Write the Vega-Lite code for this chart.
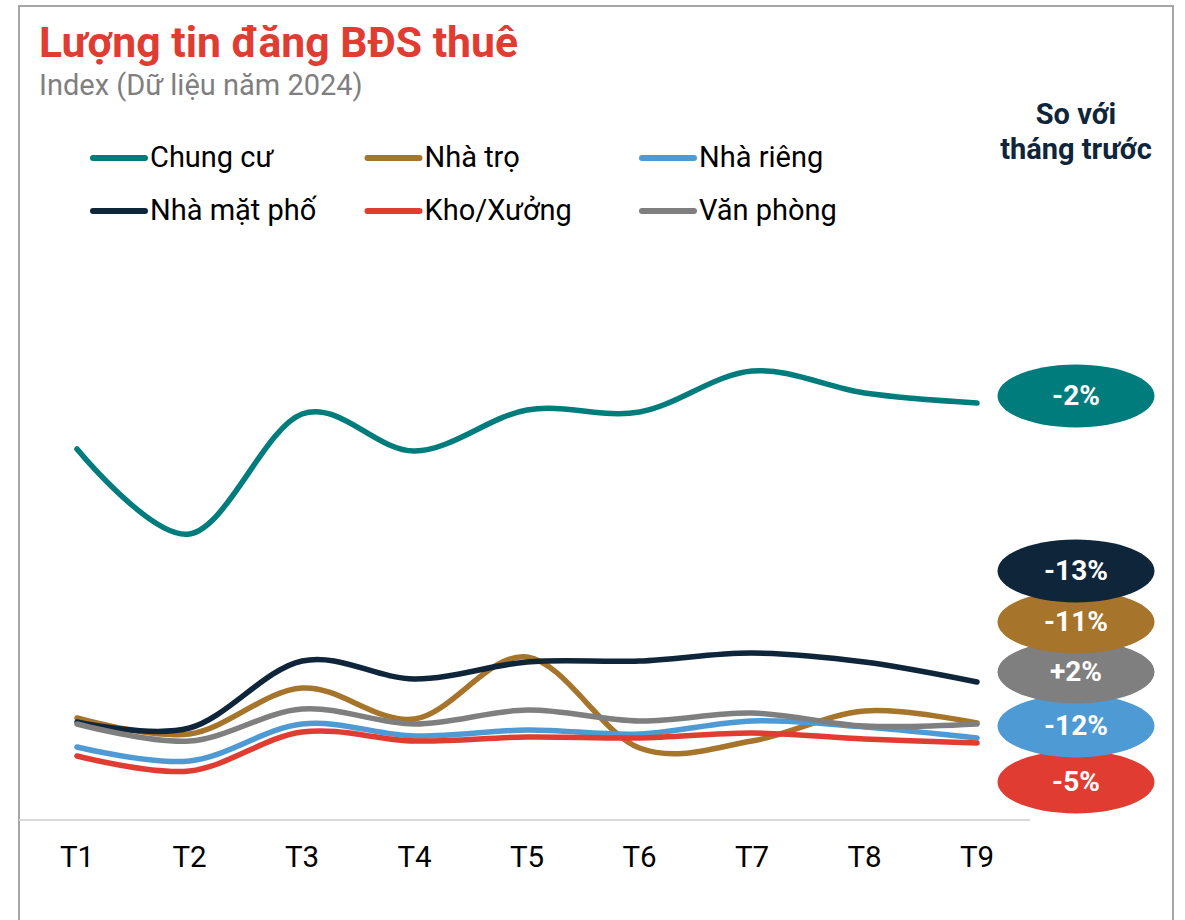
{
  "$schema": "https://vega.github.io/schema/vega-lite/v6.json",
  "width": 1154,
  "height": 924,
  "autosize": {"type": "none"},
  "padding": {"left": 19, "top": 6, "right": 12, "bottom": -10},
  "background": "white",
  "config": {
    "font": "Roboto",
    "view": {"stroke": "#a6a6a6", "strokeWidth": 2}
  },
  "title": {
    "text": "Lượng tin đăng BĐS thuê",
    "subtitle": "Index (Dữ liệu năm 2024)",
    "anchor": "start",
    "frame": "group",
    "dx": 20,
    "offset": -95,
    "font": "Roboto",
    "fontSize": 42.7,
    "fontWeight": "bold",
    "color": "#e03c31",
    "subtitleFont": "Roboto",
    "subtitleFontSize": 29,
    "subtitleColor": "#7f7f7f",
    "subtitlePadding": 6
  },
  "datasets": {
    "index": [
      {"month": 1, "series": "Chung cư", "index": 92.75},
      {"month": 2, "series": "Chung cư", "index": 71.5},
      {"month": 3, "series": "Chung cư", "index": 101.5},
      {"month": 4, "series": "Chung cư", "index": 92.25},
      {"month": 5, "series": "Chung cư", "index": 102.5},
      {"month": 6, "series": "Chung cư", "index": 102},
      {"month": 7, "series": "Chung cư", "index": 112.25},
      {"month": 8, "series": "Chung cư", "index": 106.75},
      {"month": 9, "series": "Chung cư", "index": 104.25},
      {"month": 1, "series": "Nhà trọ", "index": 25.5},
      {"month": 2, "series": "Nhà trọ", "index": 21.5},
      {"month": 3, "series": "Nhà trọ", "index": 33},
      {"month": 4, "series": "Nhà trọ", "index": 25.25},
      {"month": 5, "series": "Nhà trọ", "index": 40.75},
      {"month": 6, "series": "Nhà trọ", "index": 18},
      {"month": 7, "series": "Nhà trọ", "index": 19.75},
      {"month": 8, "series": "Nhà trọ", "index": 27.25},
      {"month": 9, "series": "Nhà trọ", "index": 24.25},
      {"month": 1, "series": "Nhà riêng", "index": 18.25},
      {"month": 2, "series": "Nhà riêng", "index": 14.75},
      {"month": 3, "series": "Nhà riêng", "index": 24},
      {"month": 4, "series": "Nhà riêng", "index": 21},
      {"month": 5, "series": "Nhà riêng", "index": 22.5},
      {"month": 6, "series": "Nhà riêng", "index": 21.5},
      {"month": 7, "series": "Nhà riêng", "index": 24.75},
      {"month": 8, "series": "Nhà riêng", "index": 23.25},
      {"month": 9, "series": "Nhà riêng", "index": 20.5},
      {"month": 1, "series": "Nhà mặt phố", "index": 24.5},
      {"month": 2, "series": "Nhà mặt phố", "index": 23},
      {"month": 3, "series": "Nhà mặt phố", "index": 39.75},
      {"month": 4, "series": "Nhà mặt phố", "index": 35.25},
      {"month": 5, "series": "Nhà mặt phố", "index": 39.5},
      {"month": 6, "series": "Nhà mặt phố", "index": 39.75},
      {"month": 7, "series": "Nhà mặt phố", "index": 41.75},
      {"month": 8, "series": "Nhà mặt phố", "index": 39.5},
      {"month": 9, "series": "Nhà mặt phố", "index": 34.5},
      {"month": 1, "series": "Kho/Xưởng", "index": 16},
      {"month": 2, "series": "Kho/Xưởng", "index": 12.25},
      {"month": 3, "series": "Kho/Xưởng", "index": 22},
      {"month": 4, "series": "Kho/Xưởng", "index": 19.75},
      {"month": 5, "series": "Kho/Xưởng", "index": 20.75},
      {"month": 6, "series": "Kho/Xưởng", "index": 20.5},
      {"month": 7, "series": "Kho/Xưởng", "index": 21.75},
      {"month": 8, "series": "Kho/Xưởng", "index": 20.25},
      {"month": 9, "series": "Kho/Xưởng", "index": 19.25},
      {"month": 1, "series": "Văn phòng", "index": 24},
      {"month": 2, "series": "Văn phòng", "index": 19.75},
      {"month": 3, "series": "Văn phòng", "index": 27.75},
      {"month": 4, "series": "Văn phòng", "index": 24},
      {"month": 5, "series": "Văn phòng", "index": 27.5},
      {"month": 6, "series": "Văn phòng", "index": 24.75},
      {"month": 7, "series": "Văn phòng", "index": 26.75},
      {"month": 8, "series": "Văn phòng", "index": 23.5},
      {"month": 9, "series": "Văn phòng", "index": 24}
    ],
    "change": [
      {"series": "Kho/Xưởng", "change": "-5%", "labelIndex": 9.5},
      {"series": "Nhà riêng", "change": "-12%", "labelIndex": 23.5},
      {"series": "Văn phòng", "change": "+2%", "labelIndex": 37},
      {"series": "Nhà trọ", "change": "-11%", "labelIndex": 49.5},
      {"series": "Nhà mặt phố", "change": "-13%", "labelIndex": 62.25},
      {"series": "Chung cư", "change": "-2%", "labelIndex": 106}
    ],
    "months": [
      {"month": 1, "label": "T1"},
      {"month": 2, "label": "T2"},
      {"month": 3, "label": "T3"},
      {"month": 4, "label": "T4"},
      {"month": 5, "label": "T5"},
      {"month": 6, "label": "T6"},
      {"month": 7, "label": "T7"},
      {"month": 8, "label": "T8"},
      {"month": 9, "label": "T9"}
    ],
    "one": [{}]
  },
  "layer": [
    {
      "data": {"name": "one"},
      "mark": {"type": "rule", "color": "#d9d9d9", "strokeWidth": 2},
      "encoding": {
        "x": {"datum": 0.4844, "type": "quantitative", "scale": {"domain": [0.4844, 10.7422], "nice": false, "zero": false}, "axis": null},
        "x2": {"datum": 9.471},
        "y": {"datum": 0, "type": "quantitative", "scale": {"domain": [-27.5, 203.5], "nice": false, "zero": false}, "axis": null}
      }
    },
    {
      "data": {"name": "months"},
      "mark": {
        "type": "text", "font": "Roboto", "fontSize": 29.5, "color": "#000000",
        "align": "center", "baseline": "alphabetic"
      },
      "encoding": {
        "x": {"field": "month", "type": "quantitative", "scale": {"domain": [0.4844, 10.7422], "nice": false, "zero": false}, "axis": null},
        "y": {"datum": -11.8, "type": "quantitative", "scale": {"domain": [-27.5, 203.5], "nice": false, "zero": false}, "axis": null},
        "text": {"field": "label"}
      }
    },
    {
      "data": {"name": "index"},
      "mark": {"type": "line", "interpolate": "cardinal", "strokeWidth": 5.5, "strokeCap": "round"},
      "encoding": {
        "x": {
          "field": "month", "type": "quantitative",
          "scale": {"domain": [0.4844, 10.7422], "nice": false, "zero": false},
          "axis": null
        },
        "y": {
          "field": "index", "type": "quantitative",
          "scale": {"domain": [-27.5, 203.5], "nice": false, "zero": false},
          "axis": null
        },
        "color": {
          "field": "series", "type": "nominal",
          "scale": {
            "domain": ["Chung cư", "Nhà trọ", "Nhà riêng", "Nhà mặt phố", "Kho/Xưởng", "Văn phòng"],
            "range": ["#007c7c", "#a6742b", "#4e9ad4", "#0f253a", "#e13c32", "#7f7f7f"]
          },
          "legend": {
            "title": null,
            "orient": "none",
            "legendX": 71,
            "legendY": 123,
            "direction": "horizontal",
            "columns": 3,
            "gridAlign": "all",
            "columnPadding": 38.5,
            "rowPadding": 9,
            "padding": 0,
            "symbolType": "stroke",
            "symbolSize": 2704,
            "symbolStrokeWidth": 6,
            "labelOffset": 2,
            "labelFont": "Roboto",
            "labelFontSize": 29,
            "labelColor": "#000000",
            "labelLimit": 400,
            "encode": {"symbols": {"update": {"strokeCap": {"value": "round"}}}}
          }
        }
      }
    },
    {
      "data": {"name": "one"},
      "mark": {
        "type": "text",
        "text": ["So với", "tháng trước"],
        "font": "Roboto", "fontSize": 29, "fontWeight": "bold",
        "color": "#0f253a", "lineHeight": 35,
        "align": "center", "baseline": "middle"
      },
      "encoding": {
        "x": {"datum": 9.88, "type": "quantitative", "scale": {"domain": [0.4844, 10.7422], "nice": false, "zero": false}, "axis": null},
        "y": {"datum": 176.15, "type": "quantitative", "scale": {"domain": [-27.5, 203.5], "nice": false, "zero": false}, "axis": null}
      }
    },
    {
      "data": {"name": "change"},
      "mark": {
        "type": "point",
        "shape": "M -1 0 C -1 -0.2209 -0.5523 -0.4 0 -0.4 C 0.5523 -0.4 1 -0.2209 1 0 C 1 0.2209 0.5523 0.4 0 0.4 C -0.5523 0.4 -1 0.2209 -1 0 Z",
        "filled": true, "size": 24649, "opacity": 1, "strokeWidth": 0
      },
      "encoding": {
        "x": {"datum": 9.88, "type": "quantitative", "scale": {"domain": [0.4844, 10.7422], "nice": false, "zero": false}, "axis": null},
        "y": {"field": "labelIndex", "type": "quantitative", "scale": {"domain": [-27.5, 203.5], "nice": false, "zero": false}, "axis": null},
        "fill": {
          "field": "series", "type": "nominal",
          "scale": {
            "domain": ["Chung cư", "Nhà trọ", "Nhà riêng", "Nhà mặt phố", "Kho/Xưởng", "Văn phòng"],
            "range": ["#007c7c", "#a6742b", "#4e9ad4", "#0f253a", "#e13c32", "#7f7f7f"]
          },
          "legend": null
        }
      }
    },
    {
      "data": {"name": "change"},
      "mark": {
        "type": "text", "font": "Roboto", "fontSize": 28, "fontWeight": "bold",
        "color": "#ffffff", "align": "center", "baseline": "middle", "dy": 1
      },
      "encoding": {
        "x": {"datum": 9.88, "type": "quantitative", "scale": {"domain": [0.4844, 10.7422], "nice": false, "zero": false}, "axis": null},
        "y": {"field": "labelIndex", "type": "quantitative", "scale": {"domain": [-27.5, 203.5], "nice": false, "zero": false}, "axis": null},
        "text": {"field": "change"}
      }
    }
  ]
}
